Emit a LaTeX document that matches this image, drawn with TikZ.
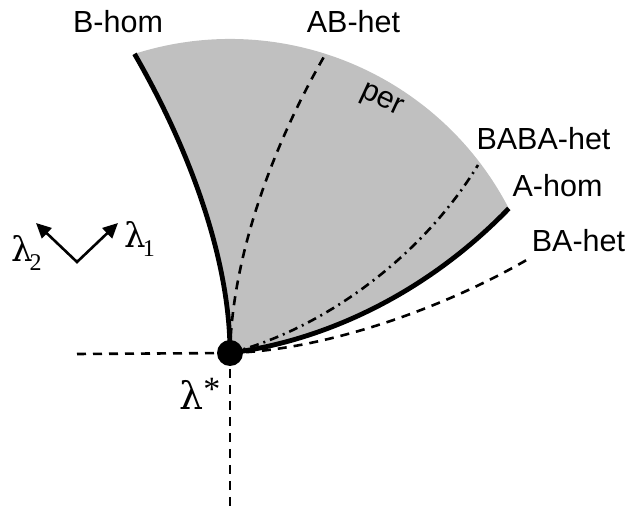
\documentclass[tikz,border=0pt]{standalone}
\usepackage{fontspec}
\setmainfont{Liberation Sans}
\newfontfamily\grk{DejaVu Serif}
\newfontfamily\sub{Liberation Serif}
\usetikzlibrary{arrows.meta}
\definecolor{regiongray}{RGB}{192,192,192}
\begin{document}
\begin{tikzpicture}[x=1pt,y=1pt,
  thickcurve/.style={line width=4.8pt},
  dashcurve/.style={line width=2.6pt, dash pattern=on 9pt off 7pt},
  dashdotcurve/.style={line width=2.6pt, dash pattern=on 9pt off 5pt on 2pt off 5pt},
  lbl/.style={font=\fontsize{30.5}{36}\selectfont, inner sep=0pt, anchor=base},
  greeklbl/.style={inner sep=0pt, anchor=base west},
  axisarrow/.style={line width=2.6pt, line join=miter,
    {Triangle[length=15pt,width=14pt]}-{Triangle[length=15pt,width=14pt]}}]
\useasboundingbox (0,0) rectangle (629,513);
% key points
\coordinate (c) at (230,160);
\coordinate (Aend) at (508.8,304.5);
\coordinate (Bend) at (134.5,459.1);
\coordinate (ABend) at (325,458);
\coordinate (BABAend) at (478,348);
\coordinate (BAend) at (530,255);
\coordinate (leftend) at (77,159);
\coordinate (bottomend) at (230,6);
% shaded region
\fill[regiongray] (c) .. controls (330,173) and (430,223) .. (Aend)
  arc[start angle=27.4, end angle=107.7, radius=314]
  .. controls (190,363) and (230,253) .. (c) -- cycle;
% dashed curves
\draw[dashcurve] (c) .. controls (232,253) and (270,363) .. (ABend);
\draw[dashdotcurve] (c) .. controls (320,183) and (420,253) .. (BABAend);
\draw[dashcurve] (c) .. controls (330,163) and (450,208) .. (BAend);
\draw[dashcurve] (leftend) -- (c);
\draw[dashcurve] (c) -- (bottomend);
% thick curves
\draw[thickcurve] (c) .. controls (230,253) and (190,363) .. (Bend);
\draw[thickcurve] (c) .. controls (330,173) and (430,223) .. (Aend);
% the point
\node[circle, fill=black, minimum size=26pt, inner sep=0pt] (ls) at (c) {};
% labels
\node[lbl] (bhom) at (118,480) {B-hom};
\node[lbl] (abhet) at (353.5,480) {AB-het};
\node[lbl] (babahet) at (543.5,363) {BABA-het};
\node[lbl] (ahom) at (557.5,316) {A-hom};
\node[lbl] (bahet) at (578.5,261) {BA-het};
\node[lbl, rotate=-25] (per) at (379,407) {per};
% axes
\coordinate (v) at (77,251);
\coordinate (t1) at (118,290);
\coordinate (t2) at (36,290);
\draw[axisarrow] (t2) -- (v) -- (t1);
\node[greeklbl] (l2) at (11,251) {\grk\fontsize{34}{40}\selectfont λ\kern-3pt\raisebox{-9pt}{\sub\fontsize{24}{28}\selectfont 2}};
\node[greeklbl] (l1) at (124,265) {\grk\fontsize{34}{40}\selectfont λ\kern-3pt\raisebox{-9pt}{\sub\fontsize{24}{28}\selectfont 1}};
\node[greeklbl] (lstar) at (179,103) {\grk\fontsize{38}{44}\selectfont λ\raisebox{9pt}{\sub\fontsize{34}{40}\selectfont *}};
\end{tikzpicture}
\end{document}
